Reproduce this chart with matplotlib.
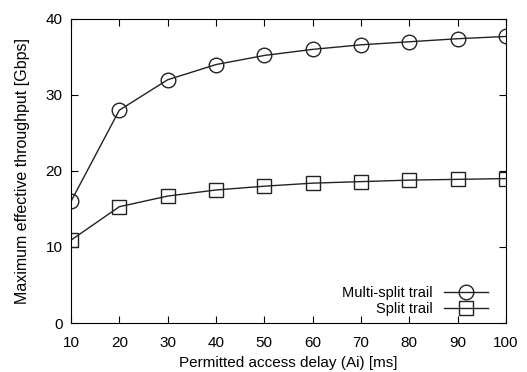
import matplotlib
matplotlib.use('Agg')
import matplotlib.pyplot as plt

# permitted access delay (ms)
delay = [10, 20, 30, 40, 50, 60, 70, 80, 90, 100]
# maximum effective throughput (Gbps)
multi_split = [16.0, 28.0, 32.0, 34.0, 35.2, 36.0, 36.6, 37.0, 37.4, 37.7]
split = [10.9, 15.3, 16.7, 17.5, 18.0, 18.4, 18.6, 18.8, 18.9, 19.0]

plt.rcParams['font.family'] = ['Liberation Sans', 'DejaVu Sans']

fig = plt.figure(figsize=(5.27, 3.72), dpi=100)
ax = fig.add_axes([0.1347, 0.1317, 0.8253, 0.8173])

ax.plot(delay, multi_split, color='#222222', lw=1.0, marker='o', ms=10.5,
        mfc='none', mec='#222222', mew=1.0, label='Multi-split trail')
ax.plot(delay, split, color='#222222', lw=1.0, marker='s', ms=10.5,
        mfc='none', mec='#222222', mew=1.0, label='Split trail')

ax.set_xlim(10, 100)
ax.set_ylim(0, 40)
ax.set_xticks(delay)
ax.set_yticks([0, 10, 20, 30, 40])
ax.tick_params(direction='in', top=True, right=True, length=5, labelsize=11)
ax.tick_params(axis='x', pad=9)
ax.tick_params(axis='y', pad=6)
ax.set_xlabel('Permitted access delay (Ai) [ms]', fontsize=11, labelpad=5)
ax.set_ylabel('Maximum effective throughput [Gbps]', fontsize=11.5, labelpad=11)

leg = ax.legend(loc='lower right', frameon=False, markerfirst=False, fontsize=10.5,
                handlelength=3.0, handletextpad=0.8, labelspacing=0.1,
                borderaxespad=0.1, bbox_to_anchor=(0.975, 0.0))

fig.savefig('out.png', dpi=100)
